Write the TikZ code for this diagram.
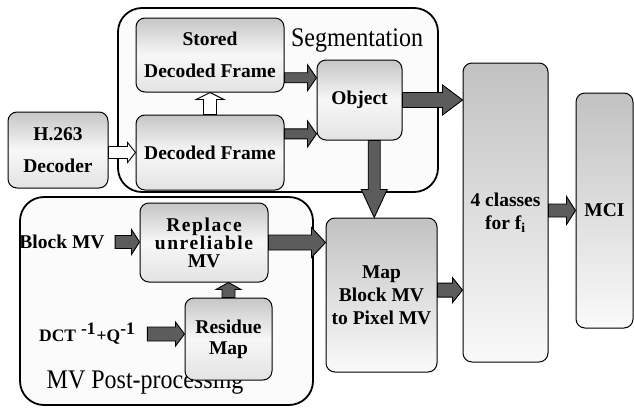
\documentclass[tikz,border=0pt]{standalone}
\usepackage{fontspec}
\setmainfont{Liberation Serif}
\usetikzlibrary{calc}
\definecolor{arrowgray}{gray}{0.36}
\newcommand{\boxfont}{\bfseries\fontsize{19.5}{23}\selectfont}
\newcommand{\titlefont}{\fontsize{24}{28}\selectfont}
\tikzstyle{container} = [rectangle, rounded corners=24pt, draw=black, line width=1.8pt, fill=gray!3, inner sep=0pt]
\tikzstyle{block} = [rectangle, rounded corners=9pt, draw=black, line width=1pt, top color=gray!45, bottom color=gray!22, middle color=gray!6, align=center, font=\boxfont, inner sep=0pt]
\tikzstyle{tallblock} = [block, top color=gray!48, bottom color=gray!4]
\tikzstyle{fatfill} = [draw=black, line width=0.9pt, fill=arrowgray, line join=miter]
\tikzstyle{hollow} = [draw=black, line width=0.9pt, fill=white, line join=miter]
% fat arrow: start, end, half shaft, half head, head length
\newcommand{\fatarrow}[6][fatfill]{%
  \draw[#1] let \p1=#2, \p2=#3, \n2={veclen(\x2-\x1,\y2-\y1)-#6} in
    ($(\p1)!#4!90:(\p2)$) -- ($(\p1)!\n2!(\p2)!#4!90:(\p2)$) -- ($(\p1)!\n2!(\p2)!#5!90:(\p2)$)
    -- (\p2) -- ($(\p1)!\n2!(\p2)!#5!-90:(\p2)$) -- ($(\p1)!\n2!(\p2)!#4!-90:(\p2)$)
    -- ($(\p1)!#4!-90:(\p2)$) -- cycle;}

\begin{document}
\begin{tikzpicture}[x=1pt, y=-1pt]

  \useasboundingbox (0,0) rectangle (634,407);

  % the two groups first
  \node (segbox) [container, minimum width=320pt, minimum height=184pt] at (278,100) {};
  \node (mvbox) [container, minimum width=293pt, minimum height=208pt] at (166.5,301) {};
  \node (seglabel) [font=\titlefont] at (357,41) {\scalebox{1}[1.12]{Segmentation}};
  \node (mvlabel) [font=\titlefont] at (145,382) {\scalebox{1}[1.12]{MV Post-processing}};

  % We start by placing the blocks
  \node (stored) [block, minimum width=148pt, minimum height=74pt] at (210,55) {Stored\\[9pt]Decoded Frame};
  \node (decoded) [block, minimum width=148pt, minimum height=75pt] at (210,152.5) {Decoded Frame};
  \node (hdecoder) [block, minimum width=100pt, minimum height=76pt] at (58,150) {H.263\\[9pt]Decoder};
  \node (object) [block, minimum width=85pt, minimum height=80pt] at (359.5,100) {Object};
  \node (classes) [tallblock, minimum width=85pt, minimum height=299pt] at (505.5,212.5) {4 classes\\for f\textsubscript{i}};
  \node (mci) [tallblock, minimum width=57pt, minimum height=235pt] at (604.5,210.5) {MCI};
  \node (map) [tallblock, minimum width=111pt, minimum height=154pt] at (381.5,295) {Map\\Block MV\\to Pixel MV};
  \node (replace) [block, minimum width=128pt, minimum height=79pt] at (204,242.5) {\addfontfeature{LetterSpace=8}Replace\\[-5pt]\addfontfeature{LetterSpace=8}unreliable\\[-5pt]MV};
  \node (residue) [block, minimum width=87pt, minimum height=82pt] at (228.5,339) {Residue\\[-2pt]Map};
  \node (blockmv) [font=\boxfont] at (62,242) {Block MV};
  \node (dct) [font=\boxfont\fontsize{17.5}{20}\selectfont] at (87,334) {DCT\hspace{5pt}\raisebox{7pt}{-1}\hspace{1pt}+Q\raisebox{7pt}{-1}};

  % draw connections between nodes
  \fatarrow[hollow]{(hdecoder.east |- decoded.west)}{(decoded.west)}{6pt}{10pt}{8pt}
  \fatarrow[hollow]{(decoded.north)}{(stored.south)}{6.5pt}{14pt}{7pt}
  \fatarrow{(stored.-17.3)}{(object.west |- stored.-17.3)}{5pt}{13pt}{9pt}
  \fatarrow{(decoded.14.8)}{(object.west |- decoded.14.8)}{5pt}{13pt}{9pt}
  \fatarrow{(object.east)}{(classes.west |- object.east)}{7.5pt}{15pt}{20pt}
  \fatarrow{(object.-70)}{(map.north -| object.-70)}{6pt}{13pt}{28pt}
  \fatarrow{(replace.east)}{(map.west |- replace.east)}{7.5pt}{15pt}{14pt}
  \fatarrow{(map.5)}{(classes.west |- map.5)}{7pt}{12.5pt}{10pt}
  \fatarrow{(classes.east |- mci.west)}{(mci.west)}{6.5pt}{14pt}{9pt}
  \fatarrow{(residue.north)}{(replace.south -| residue.north)}{6.5pt}{12.5pt}{7pt}
  \fatarrow{([xshift=7pt]blockmv.east)}{(replace.west |- blockmv.east)}{6.5pt}{12.5pt}{8pt}
  \fatarrow{([xshift=9pt]dct.east)}{(residue.west |- dct.east)}{7pt}{12pt}{9pt}

\end{tikzpicture}
\end{document}
